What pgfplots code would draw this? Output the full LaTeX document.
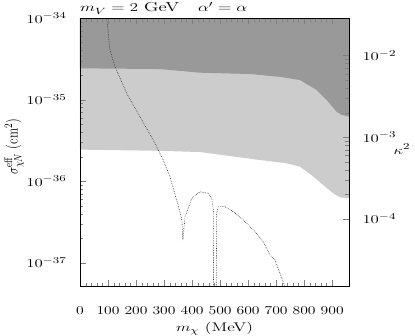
\documentclass[border=0pt]{standalone}
\usepackage{graphicx}
\usepackage{pgfplots}
\pgfplotsset{compat=1.18}
\definecolor{darkreg}{gray}{0.6}
\definecolor{lightreg}{gray}{0.8}
\newcommand{\lbl}{\fontsize{12.5}{14}\selectfont}
\newcommand{\wide}[1]{\scalebox{1.4}[1]{#1}}
\newcommand{\xw}[1]{\scalebox{1.3}[1]{#1}}

\begin{document}
\begin{tikzpicture}
\useasboundingbox (-80pt,-50pt) rectangle (335pt,286pt);
\begin{axis}[
  name=main,
  at={(0,0)}, anchor=south west,
  scale only axis, width=269pt, height=268pt,
  xmin=0, xmax=960,
  ymode=log, ymin=5.2e-38, ymax=1e-34,
  xtick={0,100,...,900}, minor x tick num=4,
  xticklabels={\xw{0},\xw{100},\xw{200},\xw{300},\xw{400},\xw{500},\xw{600},\xw{700},\xw{800},\xw{900}},
  ytick={1e-37,1e-36,1e-35,1e-34},
  yticklabels={\wide{$10^{-37}$},\wide{$10^{-36}$},\wide{$10^{-35}$},\wide{$10^{-34}$}},
  ytick pos=left, xtick pos=both,
  tick align=inside,
  major tick length=6pt, minor tick length=3.5pt,
  every tick label/.append style={font=\lbl},
  xticklabel style={yshift=-17pt, font=\fontsize{12}{14}\selectfont},
  yticklabel style={xshift=-10pt},
  xlabel={\wide{$m_\chi$ (MeV)}},
  ylabel={\scalebox{1}[1.25]{$\sigma^{\mathrm{eff}}_{\chi N}$ (cm$^2$)}},
  label style={font=\lbl},
  xlabel style={at={(axis description cs:0.5,-0.158)}, anchor=center},
  ylabel style={at={(axis description cs:-0.245,0.52)}, anchor=center},
  axis on top,
]
% allowed region below lower bound (light)
\addplot[fill=lightreg, draw=none] coordinates {
  (0,2.44e-36) (285,2.36e-36) (428,2.28e-36) (642,1.82e-36) (738,1.66e-36)
  (785,1.51e-36) (833,1.14e-36) (868,8.98e-37) (904,7.11e-37) (928,6.35e-37)
  (960,6.17e-37) (960,2e-34) (0,2e-34)
};
% excluded region (dark)
\addplot[fill=darkreg, draw=none] coordinates {
  (0,2.42e-35) (285,2.37e-35) (428,2.14e-35) (607,2.06e-35) (714,1.90e-35)
  (785,1.74e-35) (845,1.31e-35) (880,9.9e-36) (916,7.1e-36) (934,6.5e-36)
  (960,6.2e-36) (960,2e-34) (0,2e-34)
};
% relic curve
\addplot[black!85, line width=0.6pt, dash pattern=on 0.6pt off 1.1pt] coordinates {
  (92,1.5e-34) (95,1.0e-34) (107,4.06e-35) (125,2.53e-35) (167,1.19e-35)
  (214,6.17e-36) (268,2.91e-36) (297,1.82e-36) (321,1.14e-36) (345,5.89e-37)
  (363,3.51e-37) (367,1.90e-37) (375,3.67e-37) (399,6.17e-37) (428,7.43e-37)
  (458,7.11e-37) (470,6.17e-37) (476,4.44e-37) (477,1e-38) (485,1e-38)
  (488,4.05e-37) (494,4.88e-37) (517,4.88e-37) (547,4.23e-37) (583,3.35e-37)
  (625,2.40e-37) (654,1.82e-37) (678,1.25e-37) (696,1.08e-37) (732,5.09e-38)
  (740,3e-38)
};
\end{axis}
\begin{axis}[
  at={(0,0)}, anchor=south west,
  scale only axis, width=269pt, height=268pt,
  xmin=0, xmax=960, hide x axis,
  axis y line*=right,
  ymode=log, ymin=1.503e-5, ymax=2.884e-2,
  ytick={1e-4,1e-3,1e-2},
  yticklabels={\wide{$10^{-4}$},\wide{$10^{-3}$},\wide{$10^{-2}$}},
  tick align=inside,
  major tick length=6pt, minor tick length=3.5pt,
  every tick label/.append style={font=\lbl},
  yticklabel style={xshift=10pt},
]
\end{axis}
\node[font=\lbl, inner sep=0pt] at (322pt,137pt) {\wide{$\kappa^2$}};
\node[anchor=base west, font=\fontsize{13}{15}\selectfont, inner sep=0pt] at (0pt,274pt)
  {\scalebox{1.45}[1]{$m_V = 2$ GeV\quad$\alpha' = \alpha$}};
\end{tikzpicture}
\end{document}
